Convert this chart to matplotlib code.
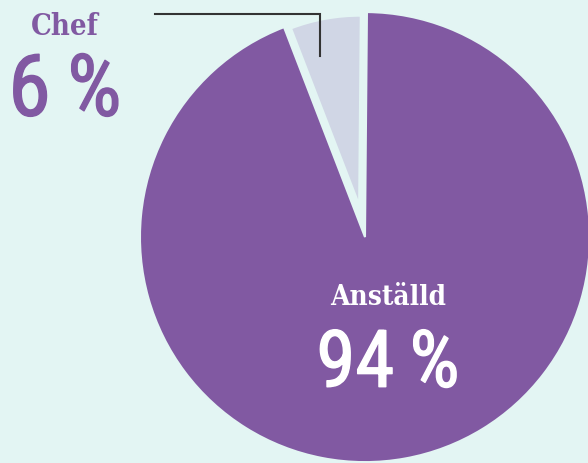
import matplotlib
matplotlib.use('Agg')
import matplotlib.pyplot as plt
import matplotlib.patheffects as pe

# ── Data ──────────────────────────────────────────────────────────────────────
labels = ['Chef', 'Anställd']
values = [6, 94]
colors = ['#D0D6E5', '#8159A2']

BG = '#E3F5F3'
PURPLE = '#8159A2'

fig = plt.figure(figsize=(5.88, 4.64), dpi=100, facecolor=BG)
ax = fig.add_axes([0, 0, 1, 1])
ax.set_facecolor(BG)

wedges, _ = ax.pie(values, colors=colors, startangle=89.5, counterclock=True,
                   explode=[0.129, 0], radius=1.0,
                   wedgeprops=dict(linewidth=0))
# the small slice is pulled out and drawn a bit smaller
wedges[0].set_radius(0.86)
wedges[0].set_edgecolor(BG)
wedges[0].set_linewidth(2.5)
wedges[1].set_edgecolor(BG)
wedges[1].set_linewidth(1.5)

ax.set_aspect('equal')
ax.set_xlim(-1.622, 0.991)
ax.set_ylim(-1.004, 1.058)
ax.axis('off')

# leader line for the small slice
ax.plot([-0.933, -0.2, -0.2], [0.991, 0.991, 0.804], color='#333333', lw=1.5,
        solid_joinstyle='miter')

slab = ['DejaVu Serif', 'DejaVu Sans']
narrow = ['Roboto Condensed', 'Roboto', 'DejaVu Sans']

ax.text(-1.333, 0.902, labels[0], ha='center', va='baseline', color=PURPLE,
        fontsize=21, fontweight='bold', family=slab, fontstretch='condensed')
ax.text(-1.333, 0.54, f'{values[0]}\u2009%', ha='center', va='baseline', color=PURPLE,
        fontsize=62, family=narrow, fontstretch='condensed', fontweight='normal',
        path_effects=[pe.withStroke(linewidth=1.0, foreground=PURPLE)])

ax.text(0.102, -0.298, labels[1], ha='center', va='baseline', color='white',
        fontsize=20, fontweight='bold', family=slab, fontstretch='condensed')
ax.text(0.102, -0.665, f'{values[1]}\u2009%', ha='center', va='baseline', color='white',
        fontsize=57, family=narrow, fontstretch='condensed', fontweight='normal',
        path_effects=[pe.withStroke(linewidth=1.0, foreground='white')])

plt.savefig('out.png', dpi=100, facecolor=BG)
plt.close()
